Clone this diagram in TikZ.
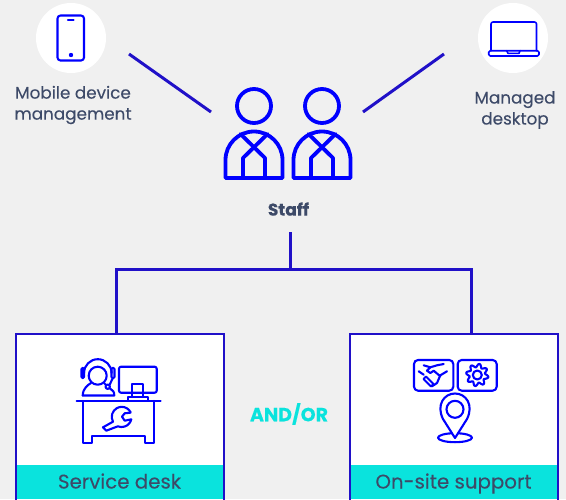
\documentclass[tikz,border=0pt]{standalone}
\usepackage{fontspec}
\setmainfont{Poppins}[FakeBold=0.1]
\definecolor{bggrey}{HTML}{F0F0F0}
\definecolor{wireblue}{HTML}{2010C8}
\definecolor{iconblue}{HTML}{0000FF}
\definecolor{labelgrey}{HTML}{3D4A68}
\definecolor{bandcyan}{HTML}{0AE3DD}
\tikzset{
    wire/.style={draw=wireblue,line width=3pt},
    icon/.style={draw=iconblue,line width=2.1pt,line join=round,line cap=round},
    iconthick/.style={icon,line width=3.8pt},
    badge/.style={circle,fill=white,minimum size=70pt,inner sep=0pt},
    caption/.style={text=labelgrey,align=center,font=\fontsize{16.8}{21}\selectfont},
    panel/.style={draw=wireblue,line width=2pt,fill=white,minimum width=208pt,minimum height=186pt,inner sep=0pt},
    band/.style={fill=bandcyan,text=labelgrey,minimum width=206pt,minimum height=34pt,inner sep=0pt,text height=15pt,text depth=2pt,font=\fontsize{19.8}{22}\selectfont}
}
\begin{document}
\begin{tikzpicture}[x=1pt,y=-1pt]
        \fill[bggrey] (0,0) rectangle (566,499);
        \useasboundingbox (0,0) rectangle (566,499);
        % Top devices
        \node[badge] (mobilebadge) at (71,38) {};
        \node[badge] (laptopbadge) at (513,38) {};
        \node[caption] (mobiletext) at (73,105) {Mobile device\\management};
        \node[caption] (laptoptext) at (515,110) {Managed\\desktop};
        \draw[icon,rounded corners=3pt] (57.5,15.5) rectangle (84,60.5);
        \draw[icon] (68,19.7) -- (73.5,19.7);
        \fill[iconblue] (71,55) circle (2.2pt);
        \draw[icon,line width=1.6pt,rounded corners=2pt] (491,50.7) -- (491,22) -- (536.5,22) -- (536.5,50.7);
        \draw[icon,line width=1.6pt,rounded corners=1.5pt] (488.7,50.7) rectangle (539,56);
        \draw[icon,line width=1.6pt] (506.7,50.7) -- (508,53.3) -- (519,53.3) -- (520,50.7);
        % Staff
        \foreach \px in {254,322} {
            \draw[iconthick] (\px,106) circle (17pt);
            \draw[iconthick] (\px-28.5,178) -- (\px-28.5,160) arc[start angle=180,end angle=0,radius=28.5pt] -- (\px+28.5,178) -- cycle;
            \draw[iconthick] (\px-13.5,134) -- (\px+11,158) -- (\px+11,178);
            \draw[iconthick] (\px+13.5,134) -- (\px-11,158) -- (\px-11,178);
        }
        \node[text=labelgrey,font=\fontsize{17}{19}\selectfont\bfseries] (stafftext) at (288.5,209) {Staff};
        \coordinate (mobileend) at (129,54);
        \coordinate (mobilestaff) at (211,112);
        \coordinate (laptopend) at (444,54);
        \coordinate (laptopstaff) at (363,112);
        \draw[wire] (mobileend) -- (mobilestaff);
        \draw[wire] (laptopend) -- (laptopstaff);
        % Panels
        \node[panel] (deskpanel) at (119.5,427) {};
        \node[panel] (sitepanel) at (453.5,427) {};
        \node[band] (deskband) at (119.5,482) {Service desk};
        \node[band] (siteband) at (453.5,482) {On-site support};
        \node[text=bandcyan,font=\fontsize{19}{22}\selectfont\bfseries] (andor) at (289,414) {AND/OR};
        \coordinate (trunk) at (290,232);
        \coordinate (junction) at (290,269);
        \coordinate (deskdrop) at (116,333);
        \coordinate (sitedrop) at (471,333);
        \draw[wire] (trunk) -- (junction);
        \draw[wire] (deskdrop) |- (junction) -| (sitedrop);
        % Service desk icon
        \draw[icon] (97.7,375.7) circle (9pt);
        \draw[icon] (84,373) arc[start angle=180,end angle=0,radius=13.8pt];
        \draw[icon,rounded corners=1pt] (81.5,368) rectangle (84,378);
        \draw[icon,rounded corners=1pt] (111.5,368) rectangle (114.5,378);
        \draw[icon] (112.7,378.3) -- (109.5,385);
        \draw[icon] (107.7,386.7) circle (2.2pt);
        \draw[icon] (82.7,395.5) .. controls (83,388) and (88,385) .. (91,383);
        \draw[icon] (104,383) -- (106,385);
        \draw[icon] (110,388.5) .. controls (113,390) and (114.3,392) .. (114.3,395.5) -- (82.7,395.5);
        \draw[icon,rounded corners=2pt] (119,366.7) rectangle (156.7,392.7);
        \draw[icon] (131.7,396.7) -- (131.7,384.3) -- (143.3,384.3) -- (143.3,396.7);
        \draw[icon] (127.7,400.7) -- (127.7,396.7) -- (148.3,396.7) -- (148.3,400.7);
        \draw[icon] (76.7,401) -- (160.7,401);
        \draw[icon] (83.3,401) -- (83.3,442.7) -- (92.3,442.7) -- (92.3,436) -- (145,436) -- (145,442.7) -- (154,442.7) -- (154,401);
        \draw[icon] (130.3,412.7) -- (124.7,413.3) -- (122,416.7) -- (124.7,420.7) -- (131.3,419.3)
            arc[start angle=-13,end angle=-112,radius=10pt] -- (106.3,430.7) -- (103,427.3) -- (113,421.7)
            arc[start angle=209,end angle=26,radius=10pt];
        % On-site support icon
        \draw[icon,rounded corners=4pt] (414,360) rectangle (453.3,390.7);
        \draw[icon,rounded corners=4pt] (457.7,360) rectangle (496.7,390.7);
        \draw[icon] (423.7,365.3) -- (430.3,367.3) -- (437,365.3) -- (443.7,364);
        \draw[icon] (418.7,371.3) -- (423.7,374.7);
        \draw[icon] (423.5,379) -- (426,376.5) -- (433.5,384) -- (431,386.5) -- cycle;
        \draw[icon] (447,371.3) -- (440.3,375.3) -- (437,383) -- (432,386.3);
        \draw[icon] (430.3,367.3) -- (427,370.7) -- (430.3,373) -- (433.7,370.7) -- (440.3,376.3);
        \draw[icon] plot[domain=0:360,samples=65,smooth] ({477.3+(9.5+1.8*sin(8*\x))*cos(\x)},{375+(9.5+1.8*sin(8*\x))*sin(\x)}) -- cycle;
        \draw[icon] (477.3,375) circle (4.5pt);
        \draw[icon] (455,437.7) ellipse (17pt and 4.5pt);
        \draw[icon,fill=white] (455,438) -- (443,419) .. controls (436,405) and (444,393.5) .. (455,393.5) .. controls (466,393.5) and (474,405) .. (467,419) -- cycle;
        \draw[icon] (455,409.3) circle (8.5pt);
    \end{tikzpicture}
\end{document}
